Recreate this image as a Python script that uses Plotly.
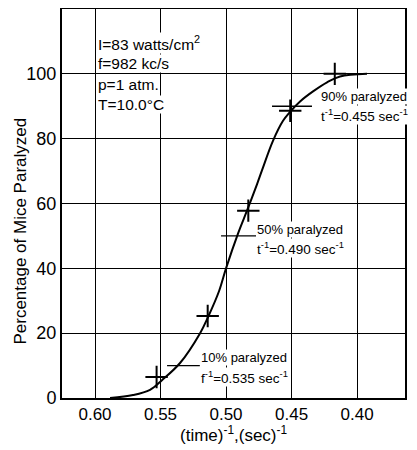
import plotly.graph_objects as go

# Measured points (crosses)
pts_x = [0.553, 0.514, 0.483, 0.451, 0.417]
pts_y = [6.5, 25.3, 57.8, 88.6, 100.0]

# Fitted curve
curve_x = [0.5885, 0.5710, 0.5580, 0.5489, 0.5351, 0.5198, 0.5137, 0.5053, 0.5000,
           0.4908, 0.4840, 0.4763, 0.4725, 0.4641, 0.4565, 0.4511, 0.4435, 0.4336,
           0.4229, 0.4130, 0.3924]
curve_y = [0.0, 0.9, 2.5, 5.5, 10.8, 20.0, 25.0, 33.0, 40.0,
           50.8, 57.8, 66.0, 70.3, 79.4, 85.5, 88.3, 91.5, 94.6,
           97.4, 99.2, 100.0]

x_ticks = [0.60, 0.55, 0.50, 0.45, 0.40]
x_tick_labels = ["0.60", "0.55", "0.50", "0.45", "0.40"]
y_ticks = [0, 20, 40, 60, 80, 100]
y_tick_labels = ["0", "20", "40", "60", "80", "100"]

conditions = ["I=83 watts/cm<sup>2</sup>", "f=982 kc/s", "p=1 atm.", "T=10.0°C"]
cond_y = [109.5, 103.1, 96.6, 90.5]

level_pcts = [10, 50, 90]
level_x0 = [0.545, 0.5038, 0.4649]
level_x1 = [0.520, 0.4771, 0.4344]
level_line1 = ["10% paralyzed", "50% paralyzed", "90% paralyzed"]
level_line2 = ["f<sup>-1</sup>=0.535 sec<sup>-1</sup>",
               "t<sup>-1</sup>=0.490 sec<sup>-1</sup>",
               "t<sup>-1</sup>=0.455 sec<sup>-1</sup>"]
label_x = [0.5198, 0.4771, 0.4282]
label_y1 = [12.4, 52.1, 93.0]
label_y2 = [6.6, 46.3, 87.2]

FONT = "Liberation Sans, Arial, DejaVu Sans, sans-serif"

fig = go.Figure()
fig.add_trace(go.Scatter(x=curve_x, y=curve_y, mode="lines",
                         line=dict(color="black", width=2, shape="spline", smoothing=1.0),
                         showlegend=False, hoverinfo="skip"))
fig.add_trace(go.Scatter(x=pts_x, y=pts_y, mode="markers",
                         marker=dict(symbol="cross-thin", size=16, line=dict(color="black", width=2)),
                         showlegend=False))

for p, a, b in zip(level_pcts, level_x0, level_x1):
    fig.add_shape(type="line", x0=a, x1=b, y0=p, y1=p, line=dict(color="black", width=1.3), layer="above")

for xx, t2, y2 in zip(label_x, level_line2, label_y2):
    fig.add_annotation(x=xx, y=y2, text=t2, showarrow=False, xanchor="left", yanchor="middle",
                       font=dict(family=FONT, size=13.5, color="black"), bgcolor="white", borderpad=0)
for xx, t1, y1 in zip(label_x, level_line1, label_y1):
    fig.add_annotation(x=xx, y=y1, text=t1, showarrow=False, xanchor="left", yanchor="middle",
                       font=dict(family=FONT, size=13, color="black"), bgcolor="white", borderpad=0)

for txt, yy in zip(conditions, cond_y):
    fig.add_annotation(x=0.5985, y=yy, text=txt, showarrow=False, xanchor="left", yanchor="middle",
                       font=dict(family=FONT, size=15.5, color="black"), bgcolor="white", borderpad=0)

# axis titles
fig.add_annotation(xref="paper", yref="paper", x=0.5, y=-0.058, yanchor="top", xanchor="center",
                   text="(time)<sup>-1</sup>,(sec)<sup>-1</sup>", showarrow=False,
                   font=dict(family=FONT, size=17, color="black"))
fig.add_annotation(xref="paper", yref="paper", x=-0.12, y=0.43, textangle=-90,
                   xanchor="center", yanchor="middle",
                   text="Percentage of Mice Paralyzed", showarrow=False,
                   font=dict(family=FONT, size=17, color="black"))

fig.update_layout(
    width=409, height=443,
    margin=dict(l=54, r=12, t=1, b=53),
    paper_bgcolor="white", plot_bgcolor="white",
    font=dict(family=FONT, color="black"),
    xaxis=dict(range=[0.6252, 0.3634], tickvals=x_ticks, ticktext=x_tick_labels,
               showgrid=True, gridcolor="black", gridwidth=1, automargin=False,
               showline=True, linecolor="black", linewidth=2, mirror=True,
               ticks="", zeroline=False, tickfont=dict(size=17)),
    yaxis=dict(range=[0, 120], tickvals=y_ticks, ticktext=y_tick_labels,
               showgrid=True, gridcolor="black", gridwidth=1, automargin=False,
               showline=True, linecolor="black", linewidth=2, mirror=True,
               ticks="", zeroline=False, tickfont=dict(size=18)),
)

fig.write_html("out.html")
